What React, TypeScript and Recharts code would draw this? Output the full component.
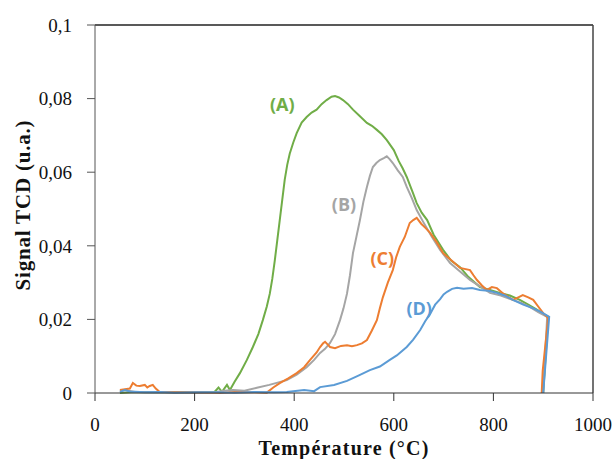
import React from 'react';
import { LineChart, Line, XAxis, YAxis, ReferenceLine, ReferenceDot } from 'recharts';

// Temperature (°C) / TCD signal pairs, one array pair per sample
const tempA = [50, 80, 120, 160, 200, 240, 248, 255, 265, 271, 280, 291, 305, 317, 328, 337, 345, 351, 356, 361, 366, 371, 376, 381, 386, 391, 398, 405, 415, 425, 435, 445, 455, 465, 475, 482, 490, 498, 508, 518, 532, 546, 556, 566, 576, 586, 600, 610, 618, 626, 638, 646, 656, 667, 680, 699, 715, 733, 750, 773, 793, 813, 833, 853, 870, 888, 900, 910, 900];
const signalA = [0, 0.0003, 0.0002, 0.0003, 0.0002, 0.0003, 0.0015, 0.0003, 0.0022, 0.0008, 0.003, 0.0054, 0.009, 0.0125, 0.016, 0.0198, 0.0235, 0.027, 0.031, 0.036, 0.0415, 0.047, 0.0525, 0.058, 0.062, 0.065, 0.068, 0.0706, 0.0735, 0.075, 0.0762, 0.077, 0.0785, 0.0796, 0.0805, 0.0807, 0.0803, 0.0796, 0.0785, 0.077, 0.0752, 0.0734, 0.0726, 0.0715, 0.0703, 0.0687, 0.066, 0.063, 0.061, 0.0587, 0.0545, 0.0516, 0.049, 0.047, 0.043, 0.0389, 0.036, 0.0342, 0.0315, 0.0288, 0.028, 0.0272, 0.0265, 0.0253, 0.024, 0.0226, 0.0215, 0.0207, 0];

const tempB = [50, 60, 80, 120, 160, 200, 240, 260, 277, 300, 325, 350, 385, 405, 425, 440, 452, 462, 472, 482, 492, 499, 506, 512, 518, 525, 532, 539, 546, 552, 558, 565, 572, 580, 586, 592, 598, 608, 618, 626, 636, 646, 659, 676, 693, 713, 733, 753, 773, 793, 815, 839, 856, 873, 890, 908, 900];
const signalB = [0.0005, 0.0008, 0.0003, 0.0002, 0.0002, 0.0001, 0.0002, 0.0006, 0.0008, 0.0006, 0.0014, 0.0022, 0.0035, 0.005, 0.007, 0.009, 0.0109, 0.012, 0.0136, 0.016, 0.0198, 0.023, 0.027, 0.032, 0.038, 0.0425, 0.047, 0.052, 0.056, 0.059, 0.0614, 0.0625, 0.0633, 0.0638, 0.0643, 0.0635, 0.0625, 0.0605, 0.0587, 0.056, 0.053, 0.0497, 0.0465, 0.0425, 0.0389, 0.0353, 0.033, 0.0307, 0.029, 0.0272, 0.0265, 0.0253, 0.0245, 0.0234, 0.022, 0.0207, 0];

const tempC = [50, 60, 70, 76, 83, 90, 100, 105, 110, 116, 122, 130, 160, 200, 240, 251, 280, 320, 345, 358, 371, 388, 405, 420, 432, 445, 452, 458, 462, 467, 472, 482, 494, 506, 516, 526, 536, 546, 556, 566, 572, 578, 588, 598, 605, 612, 622, 632, 639, 646, 655, 664, 673, 686, 699, 716, 733, 753, 760, 767, 777, 787, 797, 807, 820, 839, 850, 859, 870, 880, 890, 900, 910, 899, 897];
const signalC = [0.0008, 0.001, 0.0012, 0.0027, 0.002, 0.0019, 0.0022, 0.0015, 0.0019, 0.0022, 0.0012, 0.0003, 0.0002, 0.0002, 0.0001, 0, 0.0003, 0.0002, 0.0001, 0.0015, 0.0027, 0.004, 0.0054, 0.007, 0.009, 0.011, 0.0125, 0.0135, 0.0139, 0.0132, 0.0125, 0.0122, 0.0128, 0.013, 0.0127, 0.013, 0.0135, 0.0144, 0.017, 0.0198, 0.023, 0.026, 0.03, 0.0334, 0.037, 0.0397, 0.0424, 0.0462, 0.047, 0.0476, 0.046, 0.0448, 0.0435, 0.041, 0.038, 0.036, 0.034, 0.0334, 0.032, 0.0307, 0.0292, 0.028, 0.0288, 0.0285, 0.027, 0.0253, 0.026, 0.0266, 0.026, 0.0253, 0.0235, 0.0217, 0.0204, 0.006, 0];

const tempD = [50, 60, 70, 100, 130, 160, 200, 240, 280, 320, 360, 385, 420, 440, 452, 480, 506, 530, 552, 572, 592, 606, 626, 639, 653, 663, 673, 683, 693, 700, 707, 717, 727, 740, 757, 773, 790, 807, 823, 839, 860, 880, 896, 912, 900];
const signalD = [0.0003, 0.0008, 0.0004, 0.0002, 0.0003, 0.0001, 0.0002, 0.0002, 0.0001, 0.0003, 0.0002, 0.0003, 0.0008, 0.0005, 0.0016, 0.0022, 0.0033, 0.0048, 0.0062, 0.0072, 0.009, 0.0102, 0.0125, 0.0145, 0.0171, 0.0195, 0.0215, 0.024, 0.0255, 0.0268, 0.0275, 0.0283, 0.0286, 0.0283, 0.0285, 0.028, 0.0278, 0.0272, 0.0265, 0.0253, 0.024, 0.023, 0.022, 0.0207, 0];

const xTicks = [0, 200, 400, 600, 800, 1000];
const yTicks = [0, 0.02, 0.04, 0.06, 0.08, 0.1];

// where the (A)...(D) tags sit, in data units
const tags = [
  { text: '(A)', x: 376, y: 0.0785, color: '#70ad47' },
  { text: '(B)', x: 500, y: 0.0513, color: '#a5a5a5' },
  { text: '(C)', x: 577, y: 0.0367, color: '#ed7d31' },
  { text: '(D)', x: 651, y: 0.023, color: '#5b9bd5' },
];

const toRows = (t: number[], s: number[]) => t.map((x, i) => ({ x, y: s[i] }));

const series = [
  { name: 'A', data: toRows(tempA, signalA), color: '#70ad47' },
  { name: 'B', data: toRows(tempB, signalB), color: '#a5a5a5' },
  { name: 'C', data: toRows(tempC, signalC), color: '#ed7d31' },
  { name: 'D', data: toRows(tempD, signalD), color: '#5b9bd5' },
];

const serif = '"Liberation Serif", "Times New Roman", serif';
const fmt = (v: number) => String(v).replace('.', ',');

const XTitle = () => (
  <text x={344} y={455} textAnchor="middle" fontFamily={serif} fontWeight="bold" fontSize={20} letterSpacing={1.2} fill="#111">
    Température (°C)
  </text>
);

const YTitle = () => (
  <text x={0} y={0} transform="translate(30,205) rotate(-90)" textAnchor="middle" fontFamily={serif} fontWeight="bold" fontSize={21} letterSpacing={0.8} fill="#111">
    Signal TCD (u.a.)
  </text>
);

export default function App() {
  return (
    <div style={{ position: 'absolute', left: 0, top: 0, background: '#fff' }}>
      <LineChart width={614} height={459} margin={{ top: 25, right: 21, left: 0, bottom: 0 }}>
        <XAxis
          type="number"
          dataKey="x"
          domain={[0, 1000]}
          ticks={xTicks}
          tickSize={8}
          tickMargin={17}
          height={66}
          stroke="#333"
          tick={{ fill: '#111', fontFamily: serif, fontSize: 19 }}
          label={{ content: () => <XTitle /> }}
        />
        <YAxis
          type="number"
          dataKey="y"
          domain={[0, 0.1]}
          ticks={yTicks}
          tickFormatter={fmt}
          tickSize={8}
          tickMargin={15}
          width={95}
          stroke="#555"
          tick={{ fill: '#111', fontFamily: serif, fontSize: 19 }}
          label={{ content: () => <YTitle /> }}
        />
        <ReferenceLine y={0.1} stroke="#222" strokeWidth={1.5} />
        <ReferenceLine x={1000} stroke="#444" strokeWidth={1.5} />
        {series.map((s) => (
          <Line
            key={s.name}
            data={s.data}
            dataKey="y"
            type="linear"
            stroke={s.color}
            strokeWidth={2}
            dot={false}
            isAnimationActive={false}
          />
        ))}
        {tags.map((t) => (
          <ReferenceDot
            key={t.text}
            x={t.x}
            y={t.y}
            r={0}
            shape={(p: any) => (
              <text
                x={p.cx}
                y={p.cy}
                textAnchor="middle"
                dominantBaseline="central"
                fontFamily='"Open Sans", "Liberation Sans", sans-serif'
                fontWeight="bold"
                fontSize={18}
                fill={t.color}
              >
                {t.text}
              </text>
            )}
          />
        ))}
      </LineChart>
    </div>
  );
}
